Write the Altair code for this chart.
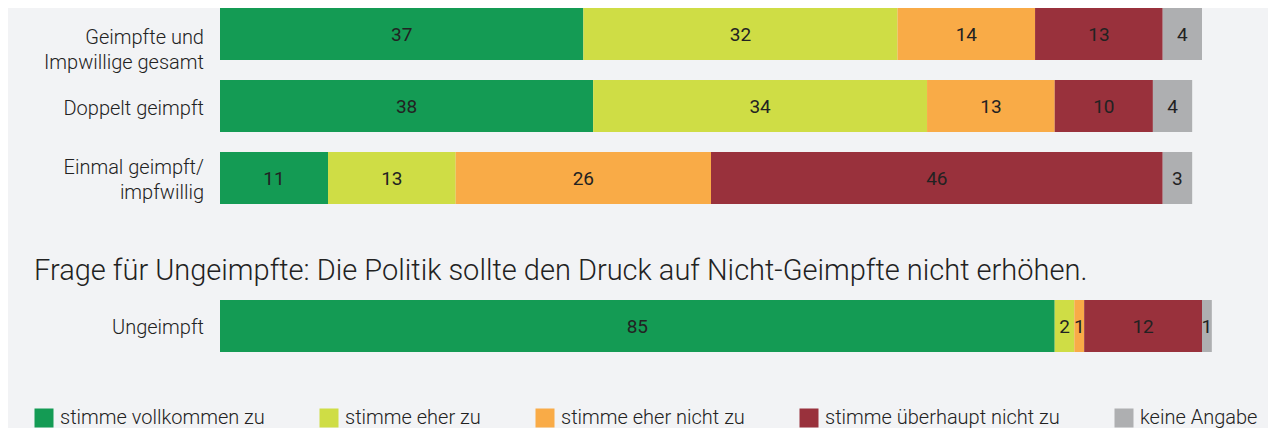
import altair as alt
import pandas as pd

categories = ["stimme vollkommen zu", "stimme eher zu", "stimme eher nicht zu",
              "stimme überhaupt nicht zu", "keine Angabe"]
colors = ["#149b54", "#cfdd45", "#f9ab47", "#99313c", "#aeafb1"]

top_groups = ["g1", "g2", "g3"]
top_labels = ["Geimpfte und \nImpwillige gesamt", "Doppelt geimpft", "Einmal geimpft/\nimpfwillig"]
vals_g1 = [37, 32, 14, 13, 4]
vals_g2 = [38, 34, 13, 10, 4]
vals_g3 = [11, 13, 26, 46, 3]

bottom_groups = ["u"]
bottom_labels = ["Ungeimpft"]
vals_u = [85, 2, 1, 12, 1]

title2 = "Frage für Ungeimpfte: Die Politik sollte den Druck auf Nicht-Geimpfte nicht erhöhen."

FONT = "Roboto"
TXT = "#222222"
LIGHT = 300


def make_df(groups, series):
    rec = []
    for g, vals in zip(groups, series):
        for i, (c, v) in enumerate(zip(categories, vals)):
            rec.append({"group": g, "cat": c, "order": i, "value": v})
    return pd.DataFrame(rec)


df_top = make_df(top_groups, [vals_g1, vals_g2, vals_g3])
df_bot = make_df(bottom_groups, [vals_u])
lab_top = pd.DataFrame({"group": top_groups, "label": top_labels})
lab_bot = pd.DataFrame({"group": bottom_groups, "label": bottom_labels})

xscale = alt.Scale(domain=[0, 100], nice=False, zero=True)
cscale = alt.Scale(domain=categories, range=colors)


def panel(df, labs, groups, label_dys, yscale, height, legend):
    base = alt.Chart(df).transform_stack(
        stack="value", groupby=["group"], as_=["x0", "x1"],
        sort=[alt.SortField("order", order="ascending")]
    )
    y = alt.Y("group:N", sort=groups, axis=None, scale=yscale)
    bars = base.mark_bar(strokeWidth=0).encode(
        y=y,
        x=alt.X("x0:Q", scale=xscale, axis=None),
        x2="x1:Q",
        color=alt.Color("cat:N", scale=cscale, sort=categories, legend=legend),
    )
    txt = base.transform_calculate(mid="(datum.x0 + datum.x1) / 2").mark_text(
        font=FONT, fontSize=19, color=TXT, baseline="middle", align="center", dy=1
    ).encode(y=y, x=alt.X("mid:Q", scale=xscale, axis=None), text="value:Q")
    layers = [bars, txt]
    for g, d in zip(groups, label_dys):
        layers.append(
            alt.Chart(labs).transform_filter(alt.datum.group == g).mark_text(
                font=FONT, fontSize=20, fontWeight=LIGHT, color=TXT, align="right",
                baseline="middle", lineBreak="\n", lineHeight=25, dy=d
            ).encode(y=y, x=alt.value(-16), text="label:N")
        )
    return alt.layer(*layers).properties(width=982, height=height)


legend = alt.Legend(
    title=None, orient="none", legendX=-186, legendY=400, direction="horizontal",
    symbolType="square", symbolSize=361, symbolStrokeWidth=0, symbolOpacity=1,
    labelFont=FONT, labelFontSize=20, labelFontWeight=LIGHT, labelColor=TXT, labelOffset=6,
    labelLimit=400, columnPadding=54,
)

top = panel(df_top, lab_top, top_groups, [4, 3, -10],
            alt.Scale(paddingInner=20 / 72, paddingOuter=0), 196, legend)
bottom = panel(df_bot, lab_bot, bottom_groups, [2],
               alt.Scale(paddingInner=0, paddingOuter=0), 52, None).properties(
    title=alt.TitleParams(
        title2, anchor="start", frame="group", dx=-186, dy=26, offset=17,
        baseline="alphabetic", font=FONT, fontSize=29, fontWeight=LIGHT, color=TXT
    )
)

chart = alt.vconcat(top, bottom, spacing=96, bounds="flush").properties(
    background="#f2f3f5",
    padding={"left": 26, "top": 0, "right": 10, "bottom": 0},
).configure_view(stroke=None)

chart.save("out.html", embed_options={"renderer": "svg", "actions": False})
